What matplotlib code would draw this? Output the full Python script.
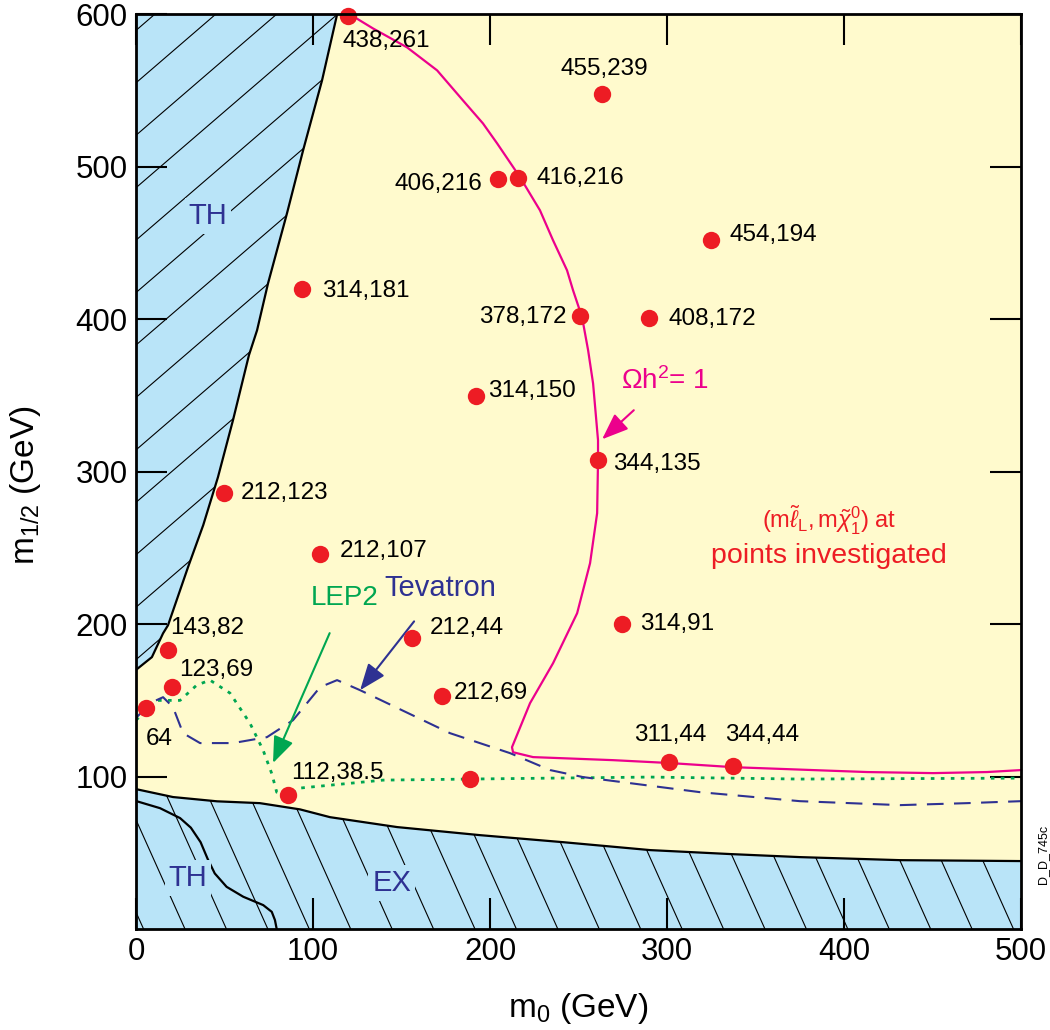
import numpy as np
import matplotlib
matplotlib.use('Agg')
from matplotlib import pyplot as plt
from matplotlib.patches import Polygon

plt.rcParams['font.family'] = ['Liberation Sans', 'DejaVu Sans']
plt.rcParams['mathtext.fontset'] = 'custom'
plt.rcParams['mathtext.rm'] = 'Liberation Sans'
plt.rcParams['mathtext.it'] = 'Liberation Sans:italic'
plt.rcParams['mathtext.bf'] = 'Liberation Sans:bold'

# --- data (m0, m1/2 in GeV) ---
th_upper_m0 = [113.6, 105.1, 94.4, 85.3, 74.6, 68.4, 63.8, 54.8, 46.3, 38.0, 29.4, 18.1, 15.3, 9.0, 0.0]
th_upper_m12 = [600, 556.7, 510.8, 469.5, 423.6, 392.8, 376.4, 333.8, 296.4, 265.0, 237.4, 199.3, 194, 178.4, 170]

ex_m0 = [0, 20.9, 45.8, 70, 92.7, 109.6, 147.5, 194.4, 241.2, 290.4, 335.6, 375, 431.6, 500]
ex_m12 = [91.8, 86.6, 83.8, 82.6, 78.5, 73.4, 66.9, 61.6, 57, 51.8, 49.2, 47.2, 45.2, 44.6]

th_lower_m0 = [0, 13.6, 24.9, 31.0, 36.5, 40.5, 44.5, 51.2, 60.6, 71.9, 76.7, 78.5, 79.5]
th_lower_m12 = [84, 79.3, 72.8, 66.5, 57.0, 46.0, 36.5, 27.7, 21.2, 15.7, 11.3, 5.9, 0]

omega_m0 = [120.9, 133.9, 153.1, 170.1, 184.7, 196, 204, 217, 228.2, 235.6, 243.5, 246.9, 252,
            255.4, 258.2, 261, 261, 260.5, 256.5, 249.2, 235.6, 222.6, 212.4, 213, 224.3, 269.5,
            301.7, 337.3, 413, 450.3, 480.8, 500]
omega_m12 = [600, 590.8, 578.4, 563.3, 543.6, 528.5, 515.4, 493.1, 471.5, 451.8, 432.1, 419, 401.3,
             379.7, 358, 320.7, 307.5, 272.8, 240, 207.2, 174.4, 148.2, 119.3, 116, 112.8, 110.8,
             108.9, 106.2, 103, 102.3, 103, 104.3]

lep2_m0 = [0, 11.7, 24.9, 34.3, 41.8, 53.1, 64.4, 71.8, 76.7, 79.5, 87, 92.7, 139.5, 188.7, 233.9,
           290.4, 375, 500]
lep2_m12 = [137, 150, 150, 160, 163.3, 154.8, 135, 117.4, 102, 89.8, 87.9, 92.5, 97.7, 98.4, 99,
            99.7, 98.4, 99]

tev_m0 = [0, 7.9, 15.3, 20.9, 26.6, 36.2, 54.8, 74, 88.7, 104, 113.6, 126.6, 177.4, 211.3, 233.9,
          252.5, 318.6, 375, 431.6, 469.5, 500]
tev_m12 = [138.4, 148.2, 152.1, 145.6, 128.5, 122, 122, 125.9, 137, 158.7, 163.3, 156.7, 128.5,
           115.4, 104.3, 99.7, 89.8, 83.9, 81.3, 82.6, 83.9]

pt_m0 = [119.8, 263, 204.5, 216, 325, 94, 251, 290, 192, 261, 50, 104, 18, 20.5, 5.6, 156, 173,
         274.6, 86, 188.7, 301, 337]
pt_m12 = [599, 547.5, 492, 493, 452, 420, 402, 400.6, 350, 308, 286, 246, 183, 159, 145, 191, 153,
          200, 88, 98.4, 109.5, 107]
pt_labels = ['438,261', '455,239', '406,216', '416,216', '454,194', '314,181', '378,172',
             '408,172', '314,150', '344,135', '212,123', '212,107', '143,82', '123,69', '64',
             '212,44', '212,69', '314,91', '112,38.5', '', '311,44', '344,44']

# label placement: offset in pixels from the dot and horizontal alignment
label_offsets = [(-6, -25, 'left'), (3, 25, 'center'), (-16, -5, 'right'), (18, 0, 'left'),
                 (18, 5, 'left'), (20, -2, 'left'), (-14, -1, 'right'), (19, -1, 'left'),
                 (12, 5, 'left'), (15, -4, 'left'), (16, 0, 'left'), (20, 3, 'left'),
                 (2, 22, 'left'), (7, 17, 'left'), (0, -31, 'left'), (18, 10, 'left'),
                 (12, 3, 'left'), (18, 0, 'left'), (3, 22, 'left'), (0, 0, 'left'),
                 (1, 27, 'center'), (30, 31, 'center')]

BLUE_FILL = '#b9e4f8'
YELLOW = '#fffacd'
RED = '#ed1c24'
MAGENTA = '#ec008c'
GREEN = '#00a651'
NAVY = '#2e3192'

fig = plt.figure(figsize=(10.5, 10.3), dpi=100)
ax = fig.add_axes([0.1295, 0.098, 0.843, 0.888])
ax.set_facecolor(YELLOW)
ax.set_xlim(0, 500)
ax.set_ylim(0, 600)

# excluded regions
upper = Polygon([(0, 600)] + list(zip(th_upper_m0, th_upper_m12)), closed=True,
                facecolor=BLUE_FILL, edgecolor='none', zorder=1)
lower = Polygon(list(zip(ex_m0, ex_m12)) + [(500, 0), (0, 0)], closed=True,
                facecolor=BLUE_FILL, edgecolor='none', zorder=1)
ax.add_patch(upper)
ax.add_patch(lower)

# hatching drawn as thin lines clipped to each region
xs = np.array([-50, 200])
for c in np.arange(589.5, 60, -34.4):
    ln, = ax.plot(xs, xs + c, color='black', lw=0.8, zorder=2)
    ln.set_clip_path(upper)
ys = np.array([-10, 120])
for x0 in np.arange(27.7 - 23.4 * 3, 560, 23.4):
    ln, = ax.plot(x0 - ys / 2.59, ys, color='black', lw=0.8, zorder=2)
    ln.set_clip_path(lower)

ax.plot(th_upper_m0, th_upper_m12, color='black', lw=1.6, zorder=3)
ax.plot(ex_m0, ex_m12, color='black', lw=1.6, zorder=3)
ax.plot(th_lower_m0, th_lower_m12, color='black', lw=1.6, zorder=3)

# limits
ax.plot(omega_m0, omega_m12, color=MAGENTA, lw=1.6, zorder=4, clip_on=False)
ax.plot(lep2_m0, lep2_m12, color=GREEN, lw=2.0, linestyle=(0, (1.3, 2.3)), zorder=4)
ax.plot(tev_m0, tev_m12, color=NAVY, lw=1.5, linestyle=(0, (8, 5)), zorder=4)

# investigated points
ax.plot(pt_m0, pt_m12, 'o', color=RED, markersize=12.5, markeredgewidth=0, zorder=6, clip_on=False)
for x, y, lab, (dx, dy, ha) in zip(pt_m0, pt_m12, pt_labels, label_offsets):
    if lab:
        ax.annotate(lab, (x, y), xytext=(dx * 0.72, dy * 0.72), textcoords='offset points',
                    ha=ha, va='center', fontsize=17.5, color='black', zorder=7)

# region / curve labels
for tx, ty, name in [(40.7, 468, 'TH'), (29.4, 33.4, 'TH'), (144.6, 30.2, 'EX')]:
    ax.text(tx, ty, name, color=NAVY, fontsize=21, ha='center', va='center', zorder=5,
            bbox=dict(facecolor=BLUE_FILL, edgecolor='none', pad=3))

arrow = '-|>,head_length=0.9,head_width=0.35'
ax.annotate('Tevatron', xy=(126.6, 156.7), xytext=(171.8, 223.6), color=NAVY, fontsize=21,
            ha='center', va='center', zorder=5,
            arrowprops=dict(arrowstyle=arrow, color=NAVY, lw=1.5,
                            shrinkA=15, shrinkB=0, mutation_scale=18))
ax.annotate('LEP2', xy=(77.4, 108.9), xytext=(118, 217), color=GREEN, fontsize=20,
            ha='center', va='center', zorder=5,
            arrowprops=dict(arrowstyle=arrow, color=GREEN, lw=1.5,
                            shrinkA=15, shrinkB=0, mutation_scale=18))
ax.annotate(r'$\Omega$h$^2$= 1', xy=(263.3, 321.3), xytext=(299, 359.3), color=MAGENTA,
            fontsize=20, ha='center', va='center', zorder=5,
            arrowprops=dict(arrowstyle=arrow, color=MAGENTA,
                            lw=1.5, shrinkA=13, shrinkB=0, mutation_scale=18))

ax.text(391.5, 268, r'$(\mathrm{m}\tilde{\ell}_\mathrm{L},\mathrm{m}\tilde{\chi}_1^0)$ at',
        color=RED, fontsize=17, ha='center', va='center', zorder=5)
ax.text(391.5, 245, 'points investigated', color=RED, fontsize=20.5, ha='center', va='center',
        zorder=5)

# axes styling
ax.set_xticks([0, 100, 200, 300, 400, 500])
ax.set_yticks([100, 200, 300, 400, 500, 600])
ax.tick_params(direction='in', length=22, width=1.5, top=True, right=True, labelsize=22.5, pad=6)
for sp in ax.spines.values():
    sp.set_linewidth(2)
    sp.set_zorder(8)

ax.set_xlabel('m$_0$ (GeV)', fontsize=24)
ax.set_ylabel('m$_{1/2}$ (GeV)', fontsize=24)
ax.xaxis.set_label_coords(0.5, -0.068)
ax.yaxis.set_label_coords(-0.105, 0.485)

fig.text(0.993, 0.17, 'D_D_745c', rotation=90, fontsize=9, ha='center', va='center')

fig.savefig('out.png', dpi=100)
